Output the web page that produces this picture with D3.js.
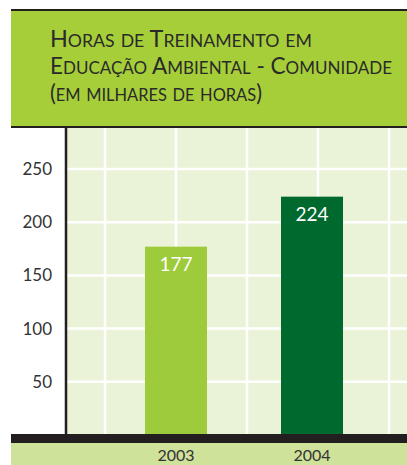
<!DOCTYPE html>
<html>
<head>
<meta charset="utf-8">
<script src="https://cdn.jsdelivr.net/npm/d3@7"></script>
<style>
  body { margin: 0; background: #fff; }
  svg { display: block; }
</style>
</head>
<body>
<div id="container"></div>
<script>
// data
const years = ["2003", "2004"];
const hours = [177, 224];
const barColors = ["#9dcb3b", "#00692e"];
const yTicks = [50, 100, 150, 200, 250];
const titleLines = ["Horas de Treinamento em", "Educação Ambiental - Comunidade", "(em milhares de horas)"];
const titleWidths = [262, 342, 212];

const width = 407;
const height = 465;

const margin = {
    top: 128,
    right: 0,
    bottom: 30,
    left: 66
};

const svg = d3.create("svg")
    .attr("width", width)
    .attr("height", height);

// y scale: 0 sits on top of the black base bar
const y = d3.scaleLinear()
    .domain([0, 250])
    .range([435, 169]);

const x = d3.scaleBand()
    .domain(years)
    .range([108, 380])
    .paddingInner(0.544)
    .paddingOuter(0.272);

// header box
svg.append("rect")
    .attr("x", 11).attr("y", 9)
    .attr("width", width - 11).attr("height", 119)
    .attr("fill", "#231f20");
svg.append("rect")
    .attr("x", 11).attr("y", 11)
    .attr("width", width - 11).attr("height", 115)
    .attr("fill", "#a6ce39");

// title, drawn as small caps by hand
titleLines.forEach((line, i) => {
    const t = svg.append("text")
        .attr("x", 50).attr("y", 47 + i * 27)
        .attr("font-family", "Lato, 'Open Sans', sans-serif")
        .attr("fill", "#2a2a2a")
        .attr("textLength", titleWidths[i])
        .attr("lengthAdjust", "spacingAndGlyphs");
    for (const ch of line) {
        const lower = ch !== ch.toUpperCase();
        t.append("tspan")
            .attr("font-size", lower ? 17 : 22.5)
            .text(ch.toUpperCase());
    }
});

// plot background
svg.append("rect")
    .attr("x", margin.left).attr("y", margin.top)
    .attr("width", width - margin.left).attr("height", 435 - margin.top)
    .attr("fill", "#eaf2d7");

// vertical grid
const gx = d3.scaleLinear().domain([0, 4]).range([105, 389]);
svg.append("g")
    .selectAll("line")
    .data(d3.range(5))
    .join("line")
    .attr("x1", d => gx(d)).attr("x2", d => gx(d))
    .attr("y1", margin.top).attr("y2", 435)
    .attr("stroke", "#fff")
    .attr("stroke-width", 2.5);

// horizontal grid
svg.append("g")
    .selectAll("line")
    .data(yTicks)
    .join("line")
    .attr("x1", margin.left).attr("x2", width)
    .attr("y1", d => y(d)).attr("y2", d => y(d))
    .attr("stroke", "#fff")
    .attr("stroke-width", 2.5);

// bars
svg.append("g")
    .selectAll("rect")
    .data(hours)
    .join("rect")
    .attr("x", (d, i) => x(years[i]))
    .attr("y", d => y(d))
    .attr("width", x.bandwidth())
    .attr("height", d => y(0) - y(d))
    .attr("fill", (d, i) => barColors[i]);

// value labels
svg.append("g")
    .selectAll("text")
    .data(hours)
    .join("text")
    .attr("x", (d, i) => x(years[i]) + x.bandwidth() / 2)
    .attr("y", d => y(d) + 24)
    .attr("text-anchor", "middle")
    .attr("font-family", "Lato, sans-serif")
    .attr("font-size", 19)
    .attr("fill", "#fff")
    .text(d => d);

// y axis
const yAxis = svg.append("g")
    .attr("transform", `translate(${margin.left},0)`)
    .call(d3.axisLeft(y).tickValues(yTicks).tickSize(0).tickPadding(14));
yAxis.select(".domain").remove();
yAxis.selectAll("text")
    .attr("font-family", "Lato, sans-serif")
    .attr("font-size", 17)
    .attr("fill", "#333");

svg.append("line")
    .attr("x1", margin.left).attr("x2", margin.left)
    .attr("y1", margin.top).attr("y2", 435)
    .attr("stroke", "#231f20")
    .attr("stroke-width", 2.5);

// base bar + category strip
svg.append("rect")
    .attr("x", 11).attr("y", 434)
    .attr("width", width - 11).attr("height", 9)
    .attr("fill", "#231f20");
svg.append("rect")
    .attr("x", 11).attr("y", 443)
    .attr("width", width - 11).attr("height", 22)
    .attr("fill", "#cfe29a");

const xAxis = svg.append("g")
    .attr("transform", "translate(0,443)")
    .call(d3.axisBottom(x).tickSize(0).tickPadding(7));
xAxis.select(".domain").remove();
xAxis.selectAll("text")
    .attr("font-family", "Lato, sans-serif")
    .attr("font-size", 16)
    .attr("fill", "#333")
    .attr("dy", "0.71em");

container.append(svg.node());
</script>
</body>
</html>
